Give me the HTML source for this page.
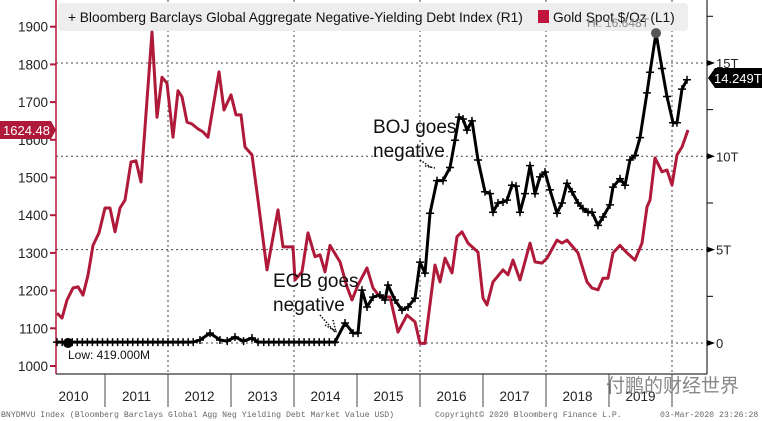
<!DOCTYPE html>
<html><head><meta charset="utf-8"><style>
body{margin:0;background:#fff;}
svg{display:block;font-family:"Liberation Sans","Noto Sans CJK SC",sans-serif;}
</style></head><body>
<svg id="chart" width="762" height="421" viewBox="0 0 762 421">
</svg>
<script>
const goldDates=[2010.238,2010.317,2010.397,2010.492,2010.571,2010.651,2010.730,2010.810,2010.905,2011.000,2011.079,2011.159,2011.238,2011.317,2011.413,2011.492,2011.571,2011.746,2011.825,2011.905,2011.984,2012.079,2012.159,2012.222,2012.302,2012.381,2012.476,2012.556,2012.635,2012.810,2012.889,2013.000,2013.079,2013.159,2013.222,2013.333,2013.429,2013.571,2013.746,2013.825,2013.984,2014.016,2014.127,2014.222,2014.333,2014.413,2014.492,2014.571,2014.730,2014.841,2014.921,2015.016,2015.159,2015.254,2015.365,2015.524,2015.651,2015.794,2015.921,2016.000,2016.079,2016.238,2016.317,2016.397,2016.508,2016.587,2016.667,2016.762,2016.921,2017.000,2017.063,2017.159,2017.317,2017.397,2017.476,2017.587,2017.746,2017.825,2017.937,2018.016,2018.175,2018.254,2018.333,2018.508,2018.651,2018.730,2018.825,2018.905,2018.984,2019.063,2019.175,2019.286,2019.413,2019.524,2019.603,2019.651,2019.730,2019.841,2019.921,2020.000,2020.079,2020.159,2020.254];
const goldValues=[1140,1127,1175,1207,1210,1188,1241,1320,1353,1419,1419,1356,1419,1440,1541,1544,1488,1886,1660,1766,1750,1607,1730,1714,1647,1642,1629,1621,1607,1780,1679,1719,1666,1666,1581,1560,1440,1255,1414,1316,1316,1228,1250,1353,1290,1295,1250,1320,1276,1210,1175,1215,1260,1207,1183,1183,1090,1135,1117,1060,1060,1268,1223,1286,1247,1343,1356,1326,1302,1180,1162,1223,1255,1242,1281,1228,1326,1276,1273,1286,1334,1326,1334,1300,1223,1207,1202,1233,1233,1300,1320,1300,1281,1326,1422,1440,1552,1515,1520,1480,1560,1581,1626];
const debtDates=[2010.238,2010.32,2010.4,2010.48,2010.56,2010.64,2010.72,2010.8,2010.88,2010.96,2011.04,2011.12,2011.2,2011.28,2011.36,2011.44,2011.52,2011.6,2011.68,2011.76,2011.84,2011.92,2012.0,2012.08,2012.16,2012.24,2012.32,2012.4,2012.508,2012.667,2012.825,2012.94,2013.063,2013.2,2013.333,2013.429,2013.52,2013.6,2013.68,2013.76,2013.84,2013.92,2014.0,2014.08,2014.16,2014.24,2014.32,2014.4,2014.48,2014.56,2014.651,2014.810,2014.937,2015.016,2015.079,2015.159,2015.254,2015.365,2015.444,2015.492,2015.603,2015.714,2015.810,2015.921,2016.000,2016.079,2016.159,2016.270,2016.365,2016.476,2016.556,2016.619,2016.683,2016.746,2016.825,2016.921,2017.032,2017.111,2017.159,2017.238,2017.317,2017.381,2017.460,2017.524,2017.587,2017.667,2017.746,2017.825,2017.905,2017.984,2018.063,2018.175,2018.254,2018.333,2018.413,2018.508,2018.587,2018.667,2018.730,2018.825,2018.905,2019.016,2019.063,2019.175,2019.254,2019.333,2019.413,2019.492,2019.603,2019.651,2019.746,2019.841,2019.921,2020.016,2020.079,2020.159,2020.238];
const debtValues=[0.05,0.05,0.05,0.05,0.05,0.05,0.05,0.05,0.05,0.05,0.05,0.05,0.05,0.05,0.05,0.05,0.05,0.05,0.05,0.05,0.05,0.05,0.05,0.05,0.05,0.05,0.05,0.05,0.16,0.53,0.16,0.1,0.32,0.1,0.27,0.05,0.05,0.05,0.05,0.05,0.05,0.05,0.05,0.05,0.05,0.05,0.05,0.05,0.05,0.05,0.05,1.07,0.53,0.53,2.83,1.93,2.46,2.57,2.3,3.1,2.3,1.76,1.93,2.4,4.33,3.74,6.95,8.7,8.7,9.4,10.86,12.1,12.0,11.4,11.9,9.8,8.1,8.0,7.0,7.5,7.55,7.65,8.45,8.4,7.0,8.0,9.5,8.0,8.9,9.15,8.2,6.95,7.5,8.55,8.1,7.5,7.2,7.0,7.0,6.3,6.75,7.4,8.35,8.8,8.45,9.8,10.05,11.0,13.4,14.5,16.6,14.7,13.2,11.8,11.8,13.6,14.1];
const yearLabels=["2010","2011","2012","2013","2014","2015","2016","2017","2018","2019"];
const leftTicks=[1000,1100,1200,1300,1400,1500,1600,1700,1800,1900];
const rightTicks=[0,5,10,15];
const rightTickLabels=["0","5T","10T","15T"];

const NS="http://www.w3.org/2000/svg";
const svg=document.getElementById('chart');
const X0=56,X1=707,YB=374;
function xs(t){return 42+(t-2010)*63;}
function yl(v){return 366-(v-1000)*0.377;}
function yr(v){return 343-v*18.67;}
function mk(tag,attrs,parent){const e=document.createElementNS(NS,tag);for(const k in attrs)e.setAttribute(k,attrs[k]);(parent||svg).appendChild(e);return e;}
function txt(s,attrs){const e=mk('text',attrs);e.textContent=s;return e;}

const grid=mk('g',{});


rightTicks.forEach(v=>{const l=mk('line',{x1:X0,x2:X1,y1:yr(v),y2:yr(v),stroke:'#444','stroke-width':1,'stroke-dasharray':'2,3'},grid);});
[2012,2014,2016,2018,2020].forEach(y=>{const l=mk('line',{x1:xs(y),x2:xs(y),y1:0,y2:YB,stroke:'#444','stroke-width':1,'stroke-dasharray':'2,3'},grid);});

const lg=mk('g',{});


mk('rect',{x:58,y:3,width:630,height:28,rx:4,fill:'#eeeeee'},lg);
const le1=txt('+ Bloomberg Barclays Global Aggregate Negative-Yielding Debt Index (R1)',{x:68,y:22,'font-size':13.7,fill:'#111'});


mk('rect',{x:538,y:10,width:11,height:13,fill:'#c0143c'});
const le2=txt('Gold Spot $/Oz  (L1)',{x:553,y:22,'font-size':13.7,fill:'#111'});



const la=mk('line',{x1:X0,x2:X0,y1:0,y2:YB,stroke:'#b01a3a','stroke-width':1.5});


const ra=mk('line',{x1:X1,x2:X1,y1:0,y2:YB,stroke:'#000','stroke-width':1});


const xa=mk('line',{x1:X0,x2:X1,y1:YB,y2:YB,stroke:'#000','stroke-width':1});


leftTicks.forEach(v=>{const y=yl(v);mk('line',{x1:X0-6,x2:X0,y1:y,y2:y,stroke:'#b01a3a','stroke-width':2});const t=txt(String(v),{x:48,y:y+5,'text-anchor':'end','font-size':13.5,fill:'#222'});});
rightTicks.forEach((v,i)=>{const y=yr(v);mk('path',{d:`M${X1},${y-3}L${X1+8},${y}L${X1},${y+3}Z`,fill:'#000'});const t=txt(rightTickLabels[i],{x:X1+9,y:y+5,'font-size':13,fill:'#222'});
 if(i<3){const ym=yr(v+2.5);mk('line',{x1:X1,x2:X1+6,y1:ym,y2:ym,stroke:'#000'});}});
mk('line',{x1:X1,x2:X1+6,y1:yr(17.5),y2:yr(17.5),stroke:'#000'});
for(let k=0;k<=10;k++){const x=xs(2011+k);if(x<X1)mk('line',{x1:x,x2:x,y1:YB,y2:407,stroke:'#444'});}
yearLabels.forEach((s,i)=>{const t=txt(s,{x:xs(2010+i)+31.5,y:401,'text-anchor':'middle','font-size':13.5,fill:'#222'});});

const gp=goldDates.map((d,i)=>(i?'L':'M')+xs(d).toFixed(1)+','+yl(goldValues[i]).toFixed(1)).join('');
const gl=mk('path',{d:gp,fill:'none',stroke:'#b01a3a','stroke-width':3,'stroke-linejoin':'round'});



const dp=debtDates.map((d,i)=>(i?'L':'M')+xs(d).toFixed(1)+','+yr(debtValues[i]).toFixed(1)).join('');
const dl=mk('path',{d:dp,fill:'none',stroke:'#000','stroke-width':3,'stroke-linejoin':'round'});


const mg=mk('g',{stroke:'#000','stroke-width':1.5});


debtDates.forEach((d,i)=>{const x=xs(d),y=yr(debtValues[i]);mk('path',{d:`M${x-4},${y}H${x+4}M${x},${y-4}V${y+4}`},mg);});

const hiI=debtValues.indexOf(Math.max(...debtValues));
const hc=mk('circle',{cx:xs(debtDates[hiI]),cy:yr(debtValues[hiI]),r:5,fill:'#555'});


const ht=txt('Hi: 16.648T',{x:587,y:27,'font-size':12,fill:'#888'});


const lc=mk('circle',{cx:68,cy:343,r:5,fill:'#000'});


const lt=txt('Low: 419.000M',{x:68,y:359,'font-size':12,fill:'#111'});



const a1=mk('text',{x:273,y:287,'font-size':19,fill:'#111'});a1.innerHTML='<tspan x="273">ECB goes</tspan><tspan x="273" dy="24">negative</tspan>';


mk('path',{d:'M320,315L335,332M325,325L337,332M333,320L336,332',stroke:'#111','stroke-width':1.5,'stroke-dasharray':'1.5,1.5',fill:'none'});
const a2=mk('text',{x:373,y:133,'font-size':19,fill:'#111'});a2.innerHTML='<tspan x="373">BOJ goes</tspan><tspan x="373" dy="24">negative</tspan>';


mk('path',{d:'M420,160L432,168M425,166L435,168',stroke:'#111','stroke-width':1.5,'stroke-dasharray':'1.5,1.5',fill:'none'});

const gt=mk('g',{});


mk('path',{d:'M0,121H51L56,130L51,139H0Z',fill:'#b01a3a'},gt);
const gtt=txt('1624.48',{x:3,y:135,'font-size':13,fill:'#fff'});gt.appendChild(gtt);
const dt=mk('g',{});


mk('path',{d:'M715,68H762V88H715L708,78Z',fill:'#000'},dt);
const dtt=txt('14.249T',{x:714,y:83,'font-size':13,fill:'#fff'});dt.appendChild(dtt);

const wm=txt('付鹏的财经世界',{x:606,y:392,'font-size':19,fill:'#888','font-family':'"Noto Sans CJK SC",sans-serif'});


const f1=txt('BNYDMVU Index (Bloomberg Barclays Global Agg Neg Yielding Debt Market Value USD)',{x:1,y:417,'font-size':8.2,fill:'#666','font-family':'"Liberation Mono",monospace'});


const f2=txt('Copyright© 2020 Bloomberg Finance L.P.',{x:435,y:417,'font-size':8.2,fill:'#666','font-family':'"Liberation Mono",monospace'});


const f3=txt('03-Mar-2020 23:26:28',{x:660,y:417,'font-size':8.2,fill:'#666','font-family':'"Liberation Mono",monospace'});


</script>
</body></html>
